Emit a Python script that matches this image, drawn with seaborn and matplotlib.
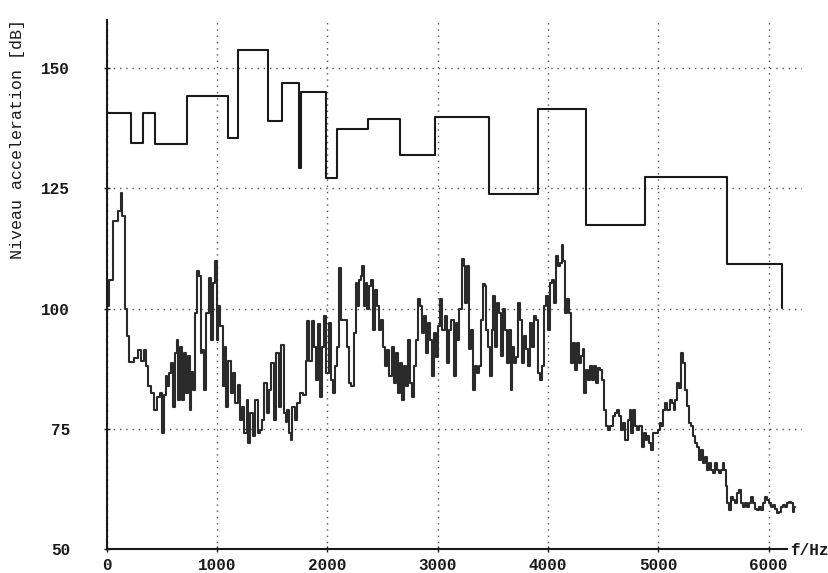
import matplotlib
matplotlib.use("Agg")
import matplotlib.pyplot as plt
import seaborn as sns

# band levels (upper staircase): band edges in Hz and level in dB
band_f = [0, 215, 330, 435, 722, 1100, 1185, 1457, 1590, 1744, 1760, 1991,
          2088, 2370, 2656, 2974, 3466, 3910, 4340, 4878, 5627, 6122]
band_db = [140.6, 134.5, 140.6, 134.2, 144.2, 135.4, 153.8, 139.0, 147.0, 129.3, 145.1, 127.1,
           137.4, 139.5, 131.9, 139.9, 123.9, 141.5, 117.3, 127.4, 109.3, 100.1]

# narrow band spectrum (lower curve)
spec_f = [0, 3, 27, 88, 118, 133, 148, 172, 193, 215,
          269, 299, 323, 345, 360, 390, 414, 444, 465, 496,
          511, 526, 541, 556, 577, 586, 607, 626, 638, 656,
          677, 692, 707, 728, 740, 759, 771, 789, 807, 822,
          841, 858, 873, 891, 910, 934, 952, 970, 988, 1000,
          1018, 1040, 1061, 1076, 1091, 1109, 1133, 1151, 1170, 1200,
          1218, 1236, 1257, 1275, 1287, 1312, 1333, 1357, 1375, 1402,
          1418, 1439, 1457, 1478, 1502, 1520, 1544, 1568, 1593, 1611,
          1629, 1644, 1659, 1674, 1689, 1714, 1738, 1765, 1795, 1810,
          1825, 1846, 1871, 1886, 1901, 1925, 1946, 1961, 1976, 1998,
          2022, 2040, 2058, 2076, 2097, 2112, 2137, 2167, 2188, 2203,
          2228, 2248, 2264, 2279, 2294, 2309, 2324, 2339, 2354, 2370,
          2385, 2403, 2421, 2439, 2460, 2475, 2494, 2511, 2529, 2549,
          2572, 2590, 2611, 2632, 2650, 2671, 2686, 2705, 2723, 2741,
          2759, 2777, 2795, 2813, 2831, 2853, 2868, 2886, 2904, 2922,
          2940, 2958, 2976, 2994, 3012, 3031, 3055, 3074, 3094, 3115,
          3134, 3152, 3170, 3188, 3206, 3225, 3243, 3255, 3273, 3291,
          3309, 3327, 3345, 3364, 3382, 3400, 3418, 3436, 3448, 3466,
          3481, 3497, 3509, 3527, 3545, 3563, 3581, 3600, 3618, 3636,
          3654, 3669, 3684, 3702, 3720, 3738, 3757, 3775, 3793, 3811,
          3829, 3847, 3865, 3883, 3901, 3919, 3937, 3955, 3974, 3992,
          4010, 4028, 4046, 4064, 4083, 4101, 4119, 4131, 4149, 4161,
          4179, 4197, 4216, 4234, 4252, 4270, 4288, 4306, 4324, 4336,
          4354, 4373, 4391, 4409, 4427, 4445, 4463, 4482, 4500, 4524,
          4536, 4554, 4579, 4597, 4621, 4639, 4657, 4675, 4693, 4712,
          4730, 4748, 4766, 4784, 4802, 4820, 4839, 4857, 4875, 4893,
          4911, 4929, 4947, 4966, 4984, 5002, 5020, 5038, 5056, 5074,
          5093, 5111, 5129, 5147, 5165, 5183, 5201, 5219, 5238, 5250,
          5268, 5286, 5304, 5322, 5340, 5358, 5376, 5395, 5413, 5431,
          5449, 5467, 5485, 5503, 5522, 5540, 5558, 5576, 5594, 5606,
          5618, 5636, 5648, 5666, 5684, 5702, 5720, 5738, 5757, 5775,
          5793, 5811, 5829, 5847, 5865, 5883, 5901, 5920, 5938, 5956,
          5974, 5992, 6010, 6028, 6046, 6064, 6082, 6100, 6118, 6136,
          6155, 6173, 6191, 6209, 6227, 6240]
spec_db = [96, 100.5, 106, 118.2, 120.3, 124.1, 119.2, 99.8, 94.2, 88.8,
           89.7, 91.3, 89.0, 91.3, 88.0, 83.8, 82.4, 79.0, 81.7, 82.4,
           74.1, 82.0, 85.9, 83.8, 86.5, 88.7, 79.6, 90.8, 93.5, 81.0,
           92.1, 81.0, 90.8, 82.4, 90.1, 79.0, 86.9, 83.1, 99.1, 107.8,
           106.8, 90.8, 91.3, 83.1, 99.1, 106.4, 93.5, 105.3, 109.9, 93.5,
           100.5, 96.3, 83.8, 92.1, 79.6, 89.0, 82.4, 86.6, 80.4, 84.2,
           76.9, 79.6, 74.1, 81.0, 72.0, 78.3, 73.4, 81.0, 74.1, 74.8,
           76.9, 84.5, 78.3, 83.1, 88.7, 76.9, 90.8, 79.6, 92.5, 78.3,
           76.5, 79.0, 74.1, 72.7, 79.6, 76.9, 80.4, 82.4, 82.0, 89.0,
           97.4, 89.1, 97.4, 92.1, 85.2, 96.7, 81.7, 92.1, 98.4, 86.6,
           97.0, 85.2, 82.4, 88.0, 92.1, 108.5, 97.7, 97.7, 92.1, 84.5,
           83.8, 94.9, 105.3, 100.5, 106.0, 106.7, 108.8, 100.5, 105.3, 99.8,
           104.6, 106.0, 95.6, 103.9, 100.5, 95.6, 97.7, 92.1, 88.0, 91.4,
           85.9, 92.1, 84.5, 90.7, 82.4, 88.7, 81.0, 88.0, 83.8, 93.5,
           84.5, 81.7, 88.0, 93.5, 101.9, 100.5, 94.9, 98.4, 90.8, 97.0,
           93.5, 85.9, 94.9, 90.0, 96.3, 101.9, 95.6, 98.4, 88.7, 95.6,
           97.7, 85.9, 97.0, 93.5, 99.8, 110.2, 108.8, 101.2, 108.8, 91.5,
           95.6, 83.1, 88.0, 86.6, 88.0, 97.7, 105.0, 104.6, 95.6, 92.1,
           85.9, 95.6, 102.6, 92.1, 101.2, 99.1, 90.1, 99.8, 95.6, 88.7,
           95.6, 83.1, 92.1, 88.7, 90.0, 101.2, 97.7, 88.7, 94.2, 91.5,
           88.0, 97.0, 92.1, 98.4, 97.7, 86.6, 85.2, 88.0, 100.5, 102.6,
           95.6, 105.3, 106.0, 101.2, 110.9, 108.8, 109.5, 113.3, 109.8, 99.1,
           101.9, 99.1, 88.7, 92.8, 87.3, 92.8, 88.7, 90.1, 91.5, 82.4,
           87.3, 85.2, 88.0, 85.2, 88.0, 84.5, 87.6, 87.3, 85.2, 79.0,
           75.5, 74.8, 75.5, 77.6, 78.3, 79.0, 77.6, 74.8, 76.2, 72.7,
           76.9, 79.0, 74.1, 79.0, 75.5, 74.8, 75.5, 71.3, 74.1, 72.7,
           73.4, 72.0, 70.6, 74.1, 74.1, 74.8, 76.2, 75.5, 79.0, 80.4,
           79.0, 81.0, 80.4, 79.0, 81.0, 84.5, 83.4, 90.8, 88.7, 83.1,
           79.7, 76.2, 75.5, 73.4, 72.0, 71.3, 68.5, 70.6, 67.8, 69.2,
           66.5, 67.8, 66.5, 65.8, 67.8, 66.5, 65.8, 66.5, 67.8, 66.5,
           63.0, 59.5, 58.1, 60.9, 60.2, 59.5, 61.6, 62.3, 59.5, 58.8,
           59.5, 58.8, 59.5, 60.9, 59.5, 58.4, 58.1, 58.8, 58.1, 59.5,
           60.9, 60.2, 59.5, 58.8, 59.1, 58.4, 57.4, 57.7, 58.8, 59.1,
           58.8, 59.5, 59.8, 59.5, 57.7, 58.8]

x_ticks = [0, 1000, 2000, 3000, 4000, 5000, 6000]
y_ticks = [50, 75, 100, 125, 150]

sns.set_theme(style="white")
plt.rcParams['font.family'] = ['Liberation Mono', 'DejaVu Sans Mono']
plt.rcParams['font.weight'] = 'bold'

fig = plt.figure(figsize=(8.29, 5.73), dpi=100)
ax = fig.add_axes([0.129, 0.042, 0.838, 0.923])

sns.lineplot(x=band_f, y=band_db, ax=ax, color="#1a1a1a", lw=1.5,
             drawstyle="steps-post", estimator=None, sort=False)
sns.lineplot(x=spec_f, y=spec_db, ax=ax, color="#2a2a2a", lw=1.5,
             drawstyle="steps-mid", estimator=None, sort=False)

ax.set_xlim(0, 6300)
ax.set_ylim(50, 160)
ax.set_xticks(x_ticks)
ax.set_yticks(y_ticks)
ax.grid(True, linestyle=(0, (1, 3.5)), color="#555555", lw=1.0)

for s in ["top", "right"]:
    ax.spines[s].set_visible(False)
ax.spines["left"].set_color("#1a1a1a")
ax.spines["bottom"].set_color("#1a1a1a")
ax.spines["left"].set_linewidth(1.5)
ax.spines["bottom"].set_linewidth(1.5)
ax.spines["bottom"].set_bounds(0, 6170)

ax.tick_params(axis="both", direction="inout", length=5, width=1, colors="#1a1a1a",
               labelsize=11.5, left=True, bottom=True)
ax.tick_params(axis="y", pad=24)
ax.tick_params(axis="x", pad=4)

ax.set_xlabel("")
ax.set_ylabel("Niveau acceleration [dB]", fontsize=12, color="#1a1a1a")
ax.yaxis.set_label_coords(-0.118, 0.776)

fig.text(0.953, 0.040, "f/Hz", fontsize=11.5, color="#1a1a1a", ha="left", va="center")

fig.savefig("out.png", dpi=100, facecolor="white")
